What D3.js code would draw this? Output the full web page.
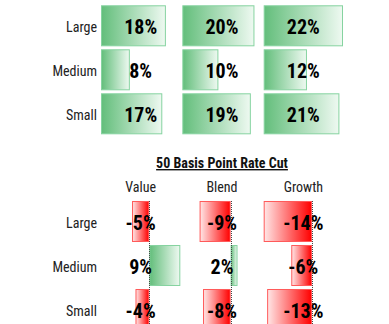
<!DOCTYPE html>
<html><head><meta charset="utf-8">
<script src="https://cdn.jsdelivr.net/npm/d3@7"></script>
<style>
html,body{margin:0;padding:0;background:#fff;}
svg{display:block;}
text{font-family:"Roboto Condensed","Roboto",sans-serif;}
</style></head>
<body>
<svg id="c" width="389" height="324"></svg>
<script>
const sizes = ["Large", "Medium", "Small"];
const styles = ["Value", "Blend", "Growth"];
// rows = sizes, columns = styles
const topValues = [[18, 20, 22], [8, 10, 12], [17, 19, 21]];
const cutTitle = "50 Basis Point Rate Cut";
const cutValues = [[-5, -9, -14], [9, 2, -6], [-4, -8, -13]];

const svg = d3.select("#c");
const defs = svg.append("defs");
const gG = defs.append("linearGradient").attr("id", "gGreen").attr("x1", 0).attr("x2", 1).attr("y1", 0).attr("y2", 0);
gG.append("stop").attr("offset", 0).attr("stop-color", "#63BE7B");
gG.append("stop").attr("offset", 1).attr("stop-color", "#eef9f1");
const gR = defs.append("linearGradient").attr("id", "gRed").attr("x1", 0).attr("x2", 1).attr("y1", 0).attr("y2", 0);
gR.append("stop").attr("offset", 0).attr("stop-color", "#ffe6e6");
gR.append("stop").attr("offset", 1).attr("stop-color", "#ff0000");

const sx = 1;
function ctext(g, x, y, str, size, weight, anchor, fill) {
  const t = g.append("text")
    .attr("transform", `translate(${x},${y}) scale(${sx},1)`)
    .attr("text-anchor", anchor)
    .attr("font-size", size)
    .attr("font-weight", weight)
    .attr("fill", fill)
    .text(str);
  return t;
}

const col = d3.scaleBand().domain(styles).range([101, 343]).paddingInner(0.025).paddingOuter(0);
const bw = col.bandwidth();

function panel(values, yRange, domain, showAxis) {
  const y = d3.scaleBand().domain(sizes).range(yRange).paddingInner(0.068).paddingOuter(0.068);
  const x = d3.scaleLinear().domain(domain).range([0, bw]);
  const g = svg.append("g");
  sizes.forEach((s, i) => {
    ctext(g, 97, y(s) + y.bandwidth() / 2 + 6.5, s, 14, 400, "end", "#222");
    styles.forEach((st, j) => {
      const v = values[i][j];
      const x0 = col(st) + x(0), x1 = col(st) + x(v);
      g.append("rect")
        .attr("x", Math.min(x0, x1) + 0.5)
        .attr("y", y(s) + 0.5)
        .attr("width", Math.max(0, Math.abs(x1 - x0) - 1))
        .attr("height", y.bandwidth() - 1)
        .attr("fill", v >= 0 ? "url(#gGreen)" : "url(#gRed)")
        .attr("stroke", v >= 0 ? "#86d3a0" : "#ff5a5a")
        .attr("stroke-width", 1);
    });
  });
  if (showAxis) {
    styles.forEach(st => {
      const xa = Math.round(col(st) + x(0)) + 0.5;
      g.append("line").attr("x1", xa).attr("x2", xa)
        .attr("y1", y(sizes[0])).attr("y2", 324)
        .attr("stroke", "#444").attr("stroke-width", 1).attr("stroke-dasharray", "1,1");
    });
  }
  sizes.forEach((s, i) => {
    styles.forEach((st, j) => {
      const v = values[i][j];
      ctext(g, col(st) + bw / 2, y(s) + y.bandwidth() / 2 + 8.2, v + "%", 20, 700, "middle", "#000");
    });
  });
  return y;
}

panel(topValues, [2.3, 137.3], [0, 22], false);

// bottom panel title and headers
const tg = svg.append("g");
const title = ctext(tg, col("Blend") + bw / 2, 168, cutTitle, 14, 700, "middle", "#111")
  .attr("text-decoration", "underline");
styles.forEach(st => {
  ctext(tg, col(st) + bw / 2, 191.5, st, 14, 400, "middle", "#222");
});
panel(cutValues, [198, 333], [-14, 9], true);
</script>
</body></html>
